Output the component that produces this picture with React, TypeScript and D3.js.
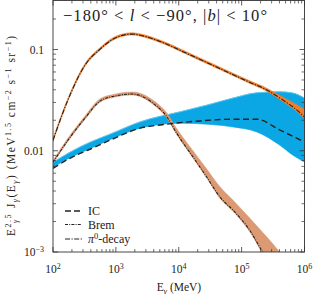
import React from 'react';
import * as d3 from 'd3';

const W = 313;
const H = 294;
const X0 = 53;
const X1 = 304.5;
const YT = 0.5;
const YB = 252;

// pi0-decay (dash-dot line + orange band)
const PI0_E = [100, 186, 324, 562, 977, 1803, 3119, 5675, 11750, 39800, 135500, 251000, 457000, 759000, 1000000];
const PI0_V = [0.0127, 0.0354, 0.0703, 0.101, 0.130, 0.142, 0.133, 0.1167, 0.0951, 0.0671, 0.0473, 0.0398, 0.0316, 0.0252, 0.0215];
const PI0_HI = [0.0133, 0.0368, 0.0728, 0.1045, 0.1345, 0.1465, 0.1375, 0.1205, 0.0985, 0.0695, 0.049, 0.0415, 0.0338, 0.0285, 0.0255];
const PI0_LO = [0.0123, 0.0345, 0.0685, 0.0985, 0.127, 0.139, 0.130, 0.114, 0.093, 0.0655, 0.0462, 0.0388, 0.0305, 0.0243, 0.0208];

// Bremsstrahlung (dotted line + tan band)
const BREM_E = [100, 173, 323, 558, 968, 1803, 2415, 3890, 6486, 9268, 16830, 27800, 45200, 78200, 135500, 218300, 281800];
const BREM_V = [0.00769, 0.0127, 0.0210, 0.0309, 0.0347, 0.0363, 0.0351, 0.0295, 0.0216, 0.0149, 0.00869, 0.00551, 0.00349, 0.00248, 0.00163, 0.00099, 0.00079];
const BREM_BAND_E = [100, 173, 323, 558, 968, 1803, 2415, 3890, 6486, 9268, 16830, 27800, 45200, 78200, 135500, 218300, 281800, 407400, 631000];
const BREM_BAND_LO = [0.0075, 0.0124, 0.0205, 0.0302, 0.0340, 0.0356, 0.0344, 0.0288, 0.0210, 0.0145, 0.0085, 0.0054, 0.0034, 0.00242, 0.00158, 0.00096, 0.00076, 0.00052, 0.00035];
const BREM_BAND_HI = [0.0080, 0.0133, 0.0220, 0.0325, 0.0362, 0.0380, 0.0370, 0.0315, 0.0235, 0.0165, 0.0100, 0.0066, 0.0044, 0.0031, 0.00215, 0.00155, 0.0013, 0.00099, 0.0007];

// Inverse Compton (dashed line + blue band)
const IC_BAND_E = [100, 186, 387, 805, 2415, 10450, 27800, 72800, 173400, 406400, 654600, 1000000];
const IC_BAND_HI = [0.00769, 0.00966, 0.01213, 0.01456, 0.01927, 0.02421, 0.02818, 0.0331, 0.0373, 0.0382, 0.0371, 0.0331];
const IC_BAND_LO = [0.00687, 0.00853, 0.01047, 0.01285, 0.0167, 0.0187, 0.0183, 0.0172, 0.01535, 0.01133, 0.00902, 0.00774];
const IC_E = [100, 186, 387, 805, 2415, 6486, 21730, 72800, 173400, 406400, 1000000];
const IC_V = [0.00671, 0.00843, 0.01035, 0.0127, 0.0167, 0.0183, 0.0197, 0.0205, 0.0205, 0.0160, 0.01222];

const X_MAJOR = [1e2, 1e3, 1e4, 1e5, 1e6];
const X_LABEL_EXP = ['2', '3', '4', '5', '6'];
const Y_MAJOR = [1e-3, 1e-2, 1e-1];
const Y_LABELS = ['10^−3', '0.01', '0.1'];

const FONT = "'Liberation Serif', 'DejaVu Serif', serif";
const AX = '#333';

export default function App() {
  const x = d3.scaleLog().domain([1e2, 1e6]).range([X0, X1]);
  const y = d3.scaleLog().domain([1e-3, 1e-1]).range([YB, 49.5]);

  const mkLine = (es: number[], vs: number[]) =>
    d3.line<number>().x((_, i) => x(es[i])).y((d) => y(d)).curve(d3.curveMonotoneX)(vs) || '';
  const mkArea = (es: number[], lo: number[], hi: number[]) =>
    d3.area<number>().x((_, i) => x(es[i])).y0((_, i) => y(lo[i])).y1((d) => y(d)).curve(d3.curveMonotoneX)(hi) || '';

  const xMinor: number[] = [];
  for (let d = 2; d < 6; d++) for (let k = 2; k <= 9; k++) xMinor.push(k * Math.pow(10, d));
  const yMinor: number[] = [];
  for (let d = -3; d <= -1; d++) for (let k = 2; k <= 9; k++) {
    const v = k * Math.pow(10, d);
    if (y(v) > YT + 1) yMinor.push(v);
  }

  return (
    <svg width={W} height={H} style={{ position: 'absolute', left: 0, top: 0, background: '#fff', fontFamily: FONT }}>
      <defs>
        <clipPath id="plot">
          <rect x={X0} y={YT} width={X1 - X0} height={YB - YT} />
        </clipPath>
      </defs>
      <g clipPath="url(#plot)">
        <path d={mkArea(IC_BAND_E, IC_BAND_LO, IC_BAND_HI)} fill="#0aa7e4" stroke="#0aa7e4" strokeWidth={0.6} />
        <path d={mkLine(IC_BAND_E, IC_BAND_HI)} fill="none" stroke="#6fcaf0" strokeWidth={0.8} />
        <path d={mkArea(BREM_BAND_E, BREM_BAND_LO, BREM_BAND_HI)} fill="#dc9a74" stroke="#dc9a74" strokeWidth={0.6} />
        <path d={mkArea(PI0_E, PI0_LO, PI0_HI)} fill="#f07e2c" stroke="#f07e2c" strokeWidth={0.5} />
        <path d={mkLine(IC_E, IC_V)} fill="none" stroke="#222" strokeWidth={1.4} strokeDasharray="6,3.5" />
        <path d={mkLine(BREM_E, BREM_V)} fill="none" stroke="#222" strokeWidth={1.1} strokeDasharray="3,1.2,1,1.2" />
        <path d={mkLine(PI0_E, PI0_V)} fill="none" stroke="#222" strokeWidth={1.1} strokeDasharray="5,1.5,1.2,1.5" />
      </g>

      {/* frame */}
      <rect x={X0} y={YT} width={X1 - X0} height={YB - YT} fill="none" stroke={AX} strokeWidth={0.9} />

      {/* x ticks */}
      {X_MAJOR.map((v) => (
        <g key={'xM' + v}>
          <line x1={x(v)} x2={x(v)} y1={YB} y2={YB - 5} stroke={AX} strokeWidth={0.8} />
          <line x1={x(v)} x2={x(v)} y1={YT} y2={YT + 5} stroke={AX} strokeWidth={0.8} />
        </g>
      ))}
      {xMinor.map((v) => (
        <g key={'xm' + v}>
          <line x1={x(v)} x2={x(v)} y1={YB} y2={YB - 3} stroke={AX} strokeWidth={0.7} />
          <line x1={x(v)} x2={x(v)} y1={YT} y2={YT + 3} stroke={AX} strokeWidth={0.7} />
        </g>
      ))}
      {X_MAJOR.map((v, i) => (
        <text key={'xl' + v} x={x(v)} y={273} fontSize={11.5} textAnchor="middle" fill="#222">
          10<tspan dy={-4.5} fontSize={8}>{X_LABEL_EXP[i]}</tspan>
        </text>
      ))}

      {/* y ticks */}
      {Y_MAJOR.map((v) => (
        <g key={'yM' + v}>
          <line x1={X0} x2={X0 + 5} y1={y(v)} y2={y(v)} stroke={AX} strokeWidth={0.8} />
          <line x1={X1} x2={X1 - 5} y1={y(v)} y2={y(v)} stroke={AX} strokeWidth={0.8} />
        </g>
      ))}
      {yMinor.map((v) => (
        <g key={'ym' + v}>
          <line x1={X0} x2={X0 + 3} y1={y(v)} y2={y(v)} stroke={AX} strokeWidth={0.7} />
          <line x1={X1} x2={X1 - 3} y1={y(v)} y2={y(v)} stroke={AX} strokeWidth={0.7} />
        </g>
      ))}
      {Y_MAJOR.map((v, i) => {
        const lab = Y_LABELS[i];
        if (lab.startsWith('10^')) {
          return (
            <text key={'yl' + v} x={44} y={y(v) + 4} fontSize={11.5} textAnchor="end" fill="#222">
              10<tspan dy={-4.5} fontSize={8}>{lab.slice(3)}</tspan>
            </text>
          );
        }
        return (
          <text key={'yl' + v} x={44} y={y(v) + 4} fontSize={11.5} textAnchor="end" fill="#222">{lab}</text>
        );
      })}

      {/* title */}
      <text x={63} y={21} fontSize={16.5} fill="#222" textLength={204} lengthAdjust="spacing">
        −180° &lt; <tspan fontStyle="italic">l</tspan> &lt; −90°, |<tspan fontStyle="italic">b</tspan>| &lt; 10°
      </text>

      {/* legend */}
      <line x1={65} x2={82} y1={211} y2={211} stroke="#222" strokeWidth={1.4} strokeDasharray="6,3" />
      <text x={88} y={215} fontSize={12} fill="#222">IC</text>
      <line x1={65} x2={82} y1={224.5} y2={224.5} stroke="#222" strokeWidth={1.1} strokeDasharray="3,1.2,1,1.2" />
      <text x={88} y={228.5} fontSize={12} fill="#222">Brem</text>
      <line x1={65} x2={82} y1={239} y2={239} stroke="#222" strokeWidth={1.1} strokeDasharray="5,1.5,1.2,1.5" />
      <text x={88} y={243} fontSize={12} fill="#222">
        <tspan fontStyle="italic">π</tspan><tspan dy={-4.5} fontSize={8.5}>0</tspan><tspan dy={4.5}>-decay</tspan>
      </text>

      {/* x label */}
      <text x={179} y={291} fontSize={11.5} textAnchor="middle" fill="#222">
        E<tspan dy={2.5} fontSize={8} fontStyle="italic">γ</tspan><tspan dy={-2.5}> (MeV)</tspan>
      </text>

      {/* y label */}
      <g transform="translate(15,136) rotate(-90)">
        <text x={0} y={0} fontSize={11.5} textAnchor="middle" fill="#222" textLength={200} lengthAdjust="spacing">
          E<tspan dy={-4.5} fontSize={8}>2.5</tspan><tspan dx={-10} dy={7.5} fontSize={8} fontStyle="italic">γ</tspan>
          <tspan dx={6} dy={-3}> J</tspan><tspan dy={3} fontSize={8} fontStyle="italic">γ</tspan>
          <tspan dy={-3}>(E</tspan><tspan dy={3} fontSize={8} fontStyle="italic">γ</tspan>
          <tspan dy={-3}>) (MeV</tspan><tspan dy={-4.5} fontSize={8}>1.5</tspan>
          <tspan dy={4.5}> cm</tspan><tspan dy={-4.5} fontSize={8}>−2</tspan>
          <tspan dy={4.5}> s</tspan><tspan dy={-4.5} fontSize={8}>−1</tspan>
          <tspan dy={4.5}> sr</tspan><tspan dy={-4.5} fontSize={8}>−1</tspan>
          <tspan dy={4.5}>)</tspan>
        </text>
      </g>
    </svg>
  );
}
